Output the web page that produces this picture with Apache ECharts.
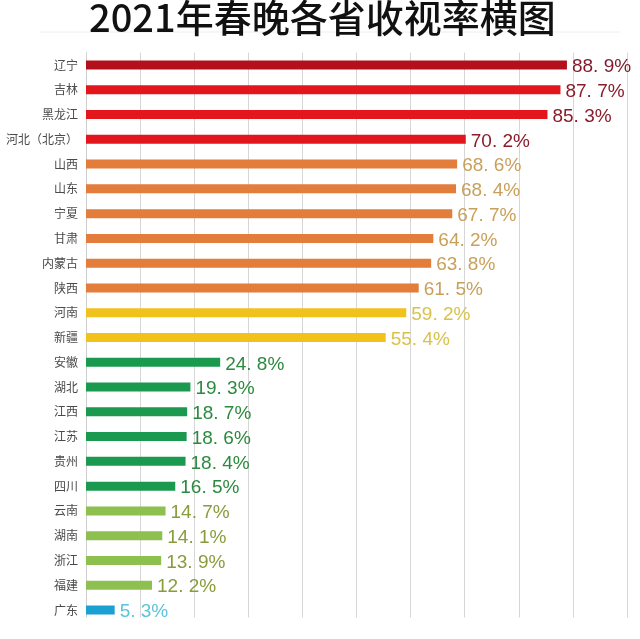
<!DOCTYPE html>
<html>
<head>
<meta charset="utf-8">
<script src="https://cdn.jsdelivr.net/npm/echarts@6/dist/echarts.min.js"></script>
<style>
html,body{margin:0;padding:0;background:#fff;}
#main{width:640px;height:639px;}
</style>
</head>
<body>
<div id="main"></div>
<script>
var titleText = '2021年春晚各省收视率横图';
var provinces = ['辽宁','吉林','黑龙江','河北（北京）','山西','山东','宁夏','甘肃','内蒙古','陕西','河南','新疆','安徽','湖北','江西','江苏','贵州','四川','云南','湖南','浙江','福建','广东'];
var ratings = [88.9,87.7,85.3,70.2,68.6,68.4,67.7,64.2,63.8,61.5,59.2,55.4,24.8,19.3,18.7,18.6,18.4,16.5,14.7,14.1,13.9,12.2,5.3];
var tiers = ['top','red','red','red','orange','orange','orange','orange','orange','orange','yellow','yellow','green','green','green','green','green','green','lightgreen','lightgreen','lightgreen','lightgreen','blue'];
var xTicks = [0,10,20,30,40,50,60,70,80,90,100];

var barColors = {top:'#b3101c', red:'#e3161d', orange:'#e27d3b', yellow:'#f1c21c', green:'#1b9a4f', lightgreen:'#8dc04e', blue:'#1ba0d2'};
var labelColors = {top:'#7d1a2a', red:'#8a1c2c', orange:'#c9a05a', yellow:'#d9c24a', green:'#2b8a3e', lightgreen:'#889c3c', blue:'#5cc4d8'};

var chart = echarts.init(document.getElementById('main'));
chart.setOption({
  backgroundColor: '#fff',
  animation: false,
  title: {
    text: titleText,
    left: 84,
    top: -6,
    textStyle: {fontFamily: 'Noto Sans CJK SC', fontSize: 38, fontWeight: 500, color: '#111'}
  },
  grid: {left: 86, right: 13, top: 52.6, bottom: 16.6, containLabel: false},
  xAxis: {
    type: 'value',
    min: xTicks[0],
    max: xTicks[xTicks.length - 1],
    interval: xTicks[1] - xTicks[0],
    axisLabel: {show: false},
    axisTick: {show: false},
    axisLine: {show: false},
    splitLine: {show: true, lineStyle: {color: '#d6d6d6', width: 1}}
  },
  yAxis: {
    type: 'category',
    inverse: true,
    data: provinces,
    axisTick: {show: false},
    axisLine: {show: true, lineStyle: {color: '#cfcfcf', width: 1}},
    axisLabel: {margin: 8, fontSize: 12, color: '#4a4a4a', fontFamily: 'Noto Sans CJK SC'}
  },
  series: [{
    type: 'bar',
    data: ratings.map(function (v, i) {
      return {value: v, label: {color: labelColors[tiers[i]]}};
    }),
    barWidth: 9,
    itemStyle: {
      color: function (p) { return barColors[tiers[p.dataIndex]]; }
    },
    label: {
      show: true,
      position: 'right',
      distance: 5,
      offset: [0, 2],
      fontFamily: 'Liberation Sans',
      fontSize: 19,
      formatter: function (p) { return p.value.toFixed(1).replace('.', '. ') + '%'; }
    }
  }],
  graphic: [
    {type: 'line', z: -1, shape: {x1: 40, y1: 32, x2: 620, y2: 32}, style: {stroke: '#eeeeee', lineWidth: 1}},
    {type: 'rect', z: 100, shape: {x: 0, y: 617.5, width: 640, height: 30}, style: {fill: '#ffffff'}}
  ]
});
</script>
</body>
</html>
